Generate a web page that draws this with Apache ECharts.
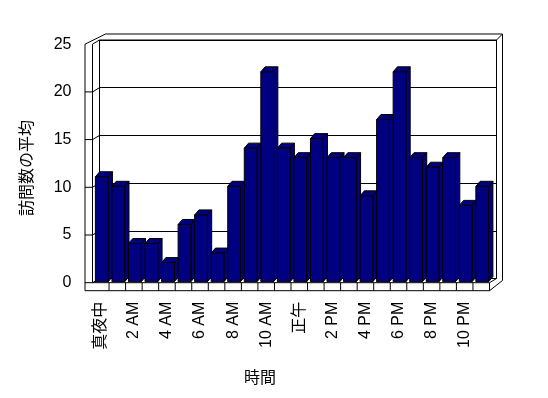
<!DOCTYPE html>
<html>
<head>
<meta charset="utf-8">
<script src="https://cdn.jsdelivr.net/npm/echarts@6/dist/echarts.min.js"></script>
<style>html,body{margin:0;padding:0;background:#fff;}#c{width:548px;height:398px;}</style>
</head>
<body>
<div id="c"></div>
<script>
// ---- data ----
const hours = ['真夜中','1 AM','2 AM','3 AM','4 AM','5 AM','6 AM','7 AM','8 AM','9 AM','10 AM','11 AM',
               '正午','1 PM','2 PM','3 PM','4 PM','5 PM','6 PM','7 PM','8 PM','9 PM','10 PM','11 PM'];
const visits = [11,10,4,4,2,6,7,3,10,14,22,14,13,15,13,13,9,17,22,13,12,13,8,10];
const yTicks = [0,5,10,15,20,25];
const yTitle = '訪問数の平均';
const xTitle = '時間';

// ---- 3D look (styles / layout) ----
const DEPTH = [7, -4.2];     // front plane -> back wall face
const SLAB = [6, -6];        // back wall thickness
const WALL = 7.5;            // left wall thickness
const FLOOR = 8;             // floor thickness
const BAR_SHIFT = [1, -1];
const BAR_DEPTH = [4.3, -5];
const BAR_RATIO = 0.77;
const NAVY = '#000080';
const FONT = "'Liberation Sans', 'Noto Sans CJK JP', sans-serif";

const chart = echarts.init(document.getElementById('c'), null, {renderer: 'canvas'});

function line(pts) {
  return {type: 'polyline', shape: {points: pts}, style: {stroke: '#000', lineWidth: 1, fill: null}, silent: true};
}

function renderWalls(params, api) {
  const cw = api.size([1, 0])[0];
  const p0 = api.coord([0, 0]);
  const x0 = p0[0] - cw / 2;
  const x1 = x0 + hours.length * cw;
  const yf = v => api.coord([0, v])[1];
  const top = yTicks[yTicks.length - 1];
  const yf0 = yf(0), yfT = yf(top);
  const T = [DEPTH[0] + SLAB[0], DEPTH[1] + SLAB[1]];
  const ch = [];
  // outer outline
  ch.push(line([[x0 + T[0], yfT + T[1]], [x0 - WALL, yfT], [x0 - WALL, yf0 + FLOOR], [x1, yf0 + FLOOR],
                [x1 + T[0], yf0 + FLOOR + T[1]], [x1 + T[0], yfT + T[1]], [x0 + T[0], yfT + T[1]]]));
  // floor front top edge and right edge
  ch.push(line([[x0, yf0], [x1, yf0], [x1, yf0 + FLOOR]]));
  ch.push(line([[x1, yf0], [x1 + DEPTH[0], yf0 + DEPTH[1]]]));
  // floor dividers
  for (let k = 1; k < hours.length; k++) {
    ch.push(line([[x0 + k * cw, yf0], [x0 + k * cw, yf0 + FLOOR]]));
  }
  // left wall inner front vertical
  ch.push(line([[x0, yfT], [x0, yf0]]));
  // left wall gridlines
  yTicks.forEach(v => {
    const y = yf(v);
    if (v === top) ch.push(line([[x0, y], [x0 + DEPTH[0], y + DEPTH[1]]]));
    else ch.push(line([[x0 - WALL, y], [x0, y], [x0 + DEPTH[0], y + DEPTH[1]]]));
  });
  // back wall face edges
  ch.push(line([[x0 + DEPTH[0], yf0 + DEPTH[1]], [x0 + DEPTH[0], yfT + DEPTH[1]], [x1 + DEPTH[0], yfT + DEPTH[1]],
                [x1 + DEPTH[0], yf0 + DEPTH[1]]]));
  ch.push(line([[x1 + DEPTH[0], yfT + DEPTH[1]], [x1 + T[0], yfT + T[1]]]));
  return {type: 'group', children: ch};
}

function renderBar(params, api) {
  const i = api.value(0), v = api.value(1);
  const base = api.coord([i, 0]);
  const tp = api.coord([i, v]);
  const cw = api.size([1, 0])[0];
  const bw = cw * BAR_RATIO;
  const xl = base[0] - bw / 2 + BAR_SHIFT[0];
  const xr = xl + bw;
  const yb = base[1] + BAR_SHIFT[1];
  const yt = tp[1] + BAR_SHIFT[1];
  const st = {fill: NAVY, stroke: '#000', lineWidth: 1};
  const dx = BAR_DEPTH[0], dy = BAR_DEPTH[1];
  return {type: 'group', children: [
    {type: 'polygon', shape: {points: [[xr, yt], [xr + dx, yt + dy], [xr + dx, yb + dy], [xr, yb]]}, style: st},
    {type: 'polygon', shape: {points: [[xl, yt], [xr, yt], [xr + dx, yt + dy], [xl + dx, yt + dy]]}, style: st},
    {type: 'rect', shape: {x: xl, y: yt, width: bw, height: yb - yt}, style: st}
  ]};
}

const yMax = yTicks[yTicks.length - 1];
const yStep = yTicks[1] - yTicks[0];

chart.setOption({
  animation: false,
  backgroundColor: '#fff',
  grid: [
    {left: 99.5, right: 51.5, top: 40, bottom: 119.5},   // back wall plane
    {left: 92.5, right: 58.5, top: 44.2, bottom: 115.3}  // front plane
  ],
  xAxis: [
    {type: 'category', gridIndex: 0, data: hours, show: false},
    {type: 'category', gridIndex: 1, data: hours,
     axisLine: {show: false}, axisTick: {show: false},
     axisLabel: {interval: 1, rotate: 90, margin: 19, color: '#000', fontSize: 16, fontFamily: FONT},
     name: xTitle, nameLocation: 'middle', nameGap: 88,
     nameTextStyle: {color: '#000', fontSize: 16, fontFamily: FONT, padding: [0, 62, 0, 0]}}
  ],
  yAxis: [
    {type: 'value', gridIndex: 0, min: 0, max: yMax, interval: yStep,
     axisLine: {show: false}, axisTick: {show: false}, axisLabel: {show: false},
     splitLine: {show: true, lineStyle: {color: '#000', width: 1}}},
    {type: 'value', gridIndex: 1, min: 0, max: yMax, interval: yStep,
     axisLine: {show: false}, axisTick: {show: false}, splitLine: {show: false},
     axisLabel: {margin: 21, color: '#000', fontSize: 16, fontFamily: FONT},
     name: yTitle, nameLocation: 'middle', nameGap: 57,
     nameTextStyle: {color: '#000', fontSize: 16, fontFamily: FONT, padding: [0, 9, 0, 0]}}
  ],
  series: [
    {type: 'custom', xAxisIndex: 1, yAxisIndex: 1, z: 1, silent: true,
     data: [[0, 0]], renderItem: renderWalls},
    {type: 'custom', xAxisIndex: 1, yAxisIndex: 1, z: 3, silent: true,
     data: visits.map((v, i) => [i, v]), renderItem: renderBar}
  ]
});
</script>
</body>
</html>
